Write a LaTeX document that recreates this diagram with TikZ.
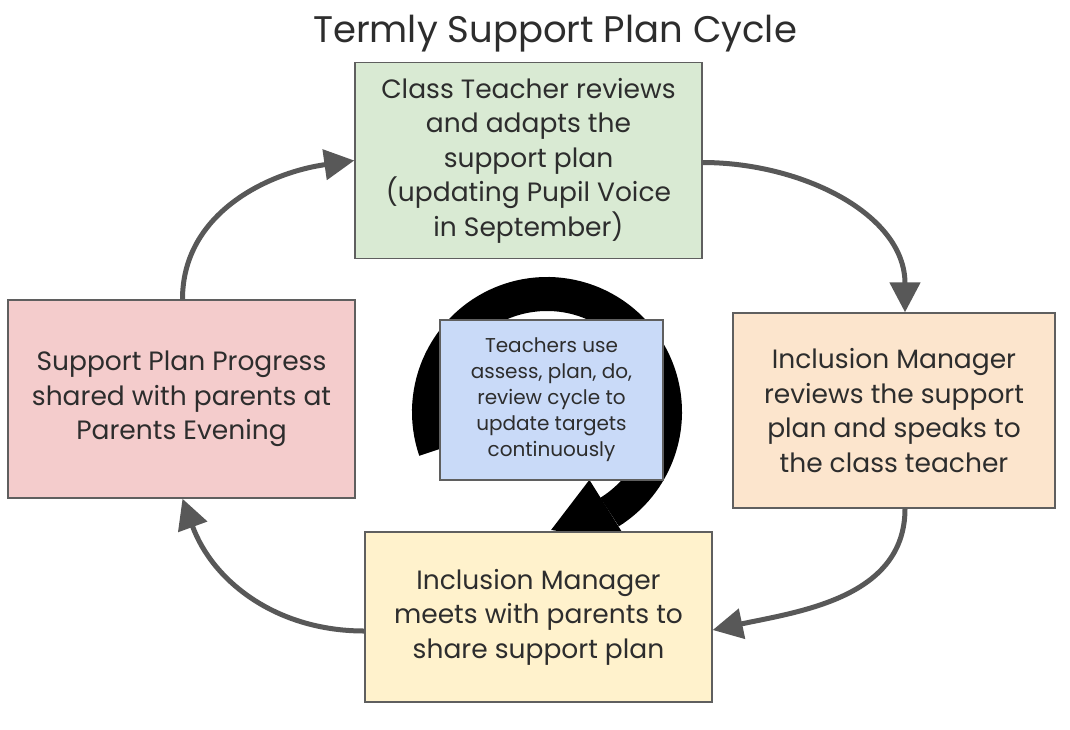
\documentclass[tikz,border=0pt]{standalone}
\usepackage{fontspec}
\setmainfont{Poppins}
\usepackage{xcolor}
\usepackage{tikz}
\usetikzlibrary{positioning, arrows.meta}
\definecolor{teachgreen}{RGB}{217,234,211}
\definecolor{reviewpeach}{RGB}{252,229,205}
\definecolor{meetyellow}{RGB}{255,242,204}
\definecolor{progresspink}{RGB}{244,204,204}
\definecolor{cycleblue}{RGB}{201,218,248}
\definecolor{edgegray}{RGB}{95,95,95}
\definecolor{flowgray}{RGB}{88,88,88}
\definecolor{inkgray}{RGB}{45,45,45}

\begin{document}
\begin{tikzpicture}[x=1pt, y=1pt,
    stage/.style={draw=edgegray, line width=1.4pt, align=center, inner sep=0pt,
        text=inkgray, font=\fontsize{26.5}{34.5}\selectfont},
    flow/.style={-{Triangle[length=30pt, width=30pt]}, line width=5pt, flowgray}]
    \useasboundingbox (0,0) rectangle (1070,-729);

    % Title
    \node[text=inkgray, font=\fontsize{37}{44}\selectfont] (title) at (555,-34)
        {Termly Support Plan Cycle};

    % Continuous cycle arrow (behind the centre box)
    \coordinate (hub) at (547,-412);
    \draw[line width=34pt] (hub) ++(199:118) arc[start angle=199, end angle=-58, radius=118];
    \fill ([shift={(-58:80)}]hub) -- ([shift={(-58:154)}]hub)
        -- ([shift={(-88:118)}]hub) -- cycle;

    % Four stages
    \node[stage, fill=teachgreen, minimum width=347pt, minimum height=196pt]
        (teacher) at (528.5,-160.5)
        {Class Teacher reviews\\and adapts the\\support plan\\(updating Pupil Voice\\in September)};
    \node[stage, fill=reviewpeach, minimum width=322pt, minimum height=195pt]
        (manager) at (894,-410.5)
        {Inclusion Manager\\reviews the support\\plan and speaks to\\the class teacher};
    \node[stage, fill=meetyellow, minimum width=347pt, minimum height=170pt]
        (meeting) at (538.5,-617)
        {Inclusion Manager\\meets with parents to\\share support plan};
    \node[stage, fill=progresspink, minimum width=347pt, minimum height=198pt]
        (progress) at (181.5,-399)
        {Support Plan Progress\\shared with parents at\\Parents Evening};

    % Centre box
    \node[stage, fill=cycleblue, minimum width=223pt, minimum height=160pt,
        font=\fontsize{20}{26}\selectfont] (apdr) at (551.5,-400)
        {Teachers use\\assess, plan, do,\\review cycle to\\update targets\\continuously};

    % Cycle arrows
    \draw[flow] ([yshift=-2pt]teacher.east) to[out=0, in=90] ([xshift=11pt]manager.north);
    \draw[flow] ([xshift=11pt]manager.south) to[out=-90, in=12] ([yshift=-13pt]meeting.east);
    \draw[flow] ([yshift=-14pt]meeting.west) to[out=180, in=-70] ([xshift=1pt]progress.south);
    \draw[flow] ([xshift=1pt]progress.north) to[out=90, in=188] (teacher.west);
\end{tikzpicture}
\end{document}
